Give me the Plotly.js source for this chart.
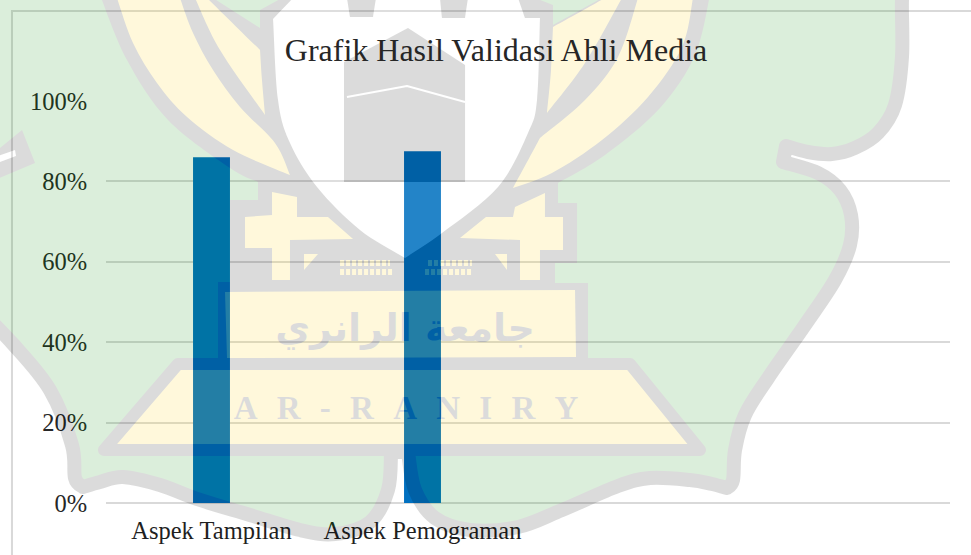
<!DOCTYPE html>
<html>
<head>
<meta charset="utf-8">
<script src="https://cdn.plot.ly/plotly-3.0.1.min.js"></script>
<style>
html,body{margin:0;padding:0;background:#fff}
.layer-above .shapelayer{opacity:.137}
.layer-above .shapelayer path{stroke-linejoin:round;stroke-linecap:butt}
</style>
</head>
<body>
<div id="chart" style="width:971px;height:555px"></div>
<script>
const categories = ['Aspek Tampilan', 'Aspek Pemograman', '', ''];
const values = [0.86, 0.875];
const tickValues = [0, 0.2, 0.4, 0.6, 0.8, 1];
const tickLabels = ['0%', '20%', '40%', '60%', '80%', '100%'];
const chartTitle = 'Grafik Hasil Validasi Ahli Media';

// Plot-area geometry, used to place the decorative watermark
const W = 971, H = 555, L = 106, R = 21, T = 101, B = 52;
const px = (x) => ((x - L) / (W - L - R)).toFixed(4);
const py = (y) => ((H - B - y) / (H - T - B)).toFixed(4);
const poly = (pts, close = true) => 'M' + pts.map(p => px(p[0]) + ',' + py(p[1])).join('L') + (close ? 'Z' : '');
// Each arc is smoothed on its own, so the joins between arcs stay sharp
function curve(arcs) {
  let d = 'M' + px(arcs[0][0][0]) + ',' + py(arcs[0][0][1]);
  arcs.forEach(pts => {
    for (let i = 0; i < pts.length - 1; i++) {
      const a = pts[Math.max(i - 1, 0)], b = pts[i], c = pts[i + 1], e = pts[Math.min(i + 2, pts.length - 1)];
      const c1 = [b[0] + (c[0] - a[0]) / 6, b[1] + (c[1] - a[1]) / 6];
      const c2 = [c[0] - (e[0] - b[0]) / 6, c[1] - (e[1] - b[1]) / 6];
      d += 'C' + px(c1[0]) + ',' + py(c1[1]) + ' ' + px(c2[0]) + ',' + py(c2[1]) + ' ' + px(c[0]) + ',' + py(c[1]);
    }
  });
  return d + 'Z';
}
const GREEN = 'rgb(0,138,0)', YELLOW = 'rgb(255,212,0)', BLACK = '#000', WHITE = '#fff';
const wm = (path, fill, stroke, width) => ({
  type: 'path', xref: 'paper', yref: 'paper', layer: 'above', path,
  fillcolor: fill || 'rgba(0,0,0,0)',
  line: { color: stroke || 'rgba(0,0,0,0)', width: stroke ? (width || 14) : 0 }
});
const wmText = (cx, cy, text, family, size) => ({
  type: 'rect', xref: 'paper', yref: 'paper', layer: 'above',
  x0: px(cx - 200), x1: px(cx + 200), y0: py(cy + 30), y1: py(cy - 30),
  fillcolor: 'rgba(0,0,0,0)', line: { width: 0 },
  label: { text, textposition: 'middle center', font: { family, size, color: BLACK, weight: 700 } }
});

const blobOutline = [
  [[-30,-30],[905,-30]],
  [[905,-30],[902,0],[902,57],[895,105],[878,133],[855,148],[832,154],[808,152],[786,146]],
  [[786,146],[783,162]],
  [[783,162],[818,173],[840,190],[851,215],[850,245],[835,280],[805,325],[768,378],[745,415],[735,450],[733,480],[727,488]],
  [[727,488],[712,484],[690,480],[650,478],[618,486],[562,510],[518,527],[470,530],[435,518],[415,490],[408,452]],
  [[408,452],[391,452]],
  [[391,452],[388,490],[370,522],[335,534],[300,530],[250,515],[200,500],[160,485],[123,477],[100,482],[83,487]],
  [[83,487],[75,478],[72,445],[50,390],[13,344],[-30,300]]
];
const greyBody = [
  [[100,-5],[127,60],[168,120],[230,168],[258,182]],
  [[258,182],[258,200]],[[258,200],[230,200]],[[230,200],[230,282]],[[230,282],[218,282]],[[218,282],[218,362]],
  [[218,362],[588,362]],[[588,362],[588,283]],[[588,283],[555,283]],[[555,283],[555,263]],[[555,263],[577,263]],
  [[577,263],[577,203]],[[577,203],[558,203]],[[558,203],[558,183]],
  [[558,183],[605,155],[660,108],[695,55],[710,-5]]
];
const leafLeftOuter = [
  [[117,-2],[133,43],[157,83],[187,117],[233,150],[290,175]],
  [[290,175],[275,143],[240,107],[213,70],[193,33],[180,-2]]
];
const leafLeftInner = [[[195,-2],[220,50],[265,115]],[[265,115],[262,80],[260,50]],[[260,50],[207,-2]]];
const leafRightOuter = [
  [[638,-2],[618,57],[585,100],[540,138]],
  [[540,138],[513,188]],
  [[513,188],[552,173],[602,140],[648,97],[682,47],[693,-2]]
];
const leafRightInner = [[[605,-2],[553,27]],[[553,27],[551,70],[547,113]],[[547,113],[585,63],[622,-2]]];
const greenLeft = [[213,-2],[282,-2],[260,10],[260,28]];
const greenRight = [[535,-2],[602,-2],[553,25],[553,5]];
const shield = [
  [[273,19],[293,-2]],[[293,-2],[347,-2]],[[347,-2],[350,17]],[[350,17],[373,17]],[[373,17],[376,-2]],[[376,-2],[440,-2]],
  [[440,-2],[442,18]],[[442,18],[465,18]],[[465,18],[468,-2]],[[468,-2],[518,-2]],[[518,-2],[525,18]],[[525,18],[540,18]],
  [[540,18],[537,100],[528,133],[498,187],[442,233],[405,258]],
  [[405,258],[360,230],[317,187],[290,143],[278,100],[273,19]]
];
const kaaba = [[344,62],[408,28],[465,65],[465,182],[344,182]];
const kaabaBand = [[347,97],[407,86],[465,102]];
const crossLeft = [[272,192],[297,197],[297,217],[328,217],[353,239],[290,240],[290,280],[272,280],[272,248],[245,248],[245,217],[272,215]];
const crossRight = [[545,193],[515,207],[513,217],[486,217],[460,238],[520,240],[520,280],[540,280],[540,250],[563,250],[563,217],[545,217]];
const baseBox = [[225,292],[575,290],[576,357],[227,358]];
const trapezoid = [[178,364],[104,450],[700,450],[630,364]];
const sideMark = [[-5,152],[22,130],[35,163],[-5,180]];
const sideSlit = [[-5,157],[15,150],[16,156],[-5,164]];
const winA = [[340,263],[390,263]], winB = [[340,272],[392,272]], winC = [[428,263],[472,263]], winD = [[425,272],[472,272]];
const smallTri = [[304,254],[318,254],[304,270]], smallTriR = [[495,254],[507,254],[507,270]];
const arabicText = 'جامعة الرانري';
const latinText = ['A','R','-','R','A','N','I','R','Y'].join('\u00a0\u00a0\u200a');

const shapes = [
  { type:'line', xref:'paper', yref:'paper', layer:'below', x0:px(12), x1:px(12), y0:py(11), y1:py(560), line:{color:'#d9d9d9',width:2} },
  { type:'line', xref:'paper', yref:'paper', layer:'below', x0:px(11), x1:px(975), y0:py(11), y1:py(11), line:{color:'#d9d9d9',width:2} },
  wm(curve(blobOutline), GREEN, BLACK, 14),
  wm(poly(sideMark), BLACK), wm(poly(sideSlit), WHITE),
  wm(curve(greyBody), BLACK),
  wm(poly(greenLeft), GREEN), wm(poly(greenRight), GREEN),
  wm(curve(leafLeftOuter), YELLOW), wm(curve(leafLeftInner), YELLOW),
  wm(curve(leafRightOuter), YELLOW), wm(curve(leafRightInner), YELLOW),
  wm(curve(shield), WHITE),
  wm(poly(kaaba), BLACK),
  wm(poly(kaabaBand, false), null, WHITE, 2),
  wm(poly(crossLeft), YELLOW), wm(poly(crossRight), YELLOW),
  wm(poly(smallTri), YELLOW), wm(poly(smallTriR), YELLOW),
  wm(poly(baseBox), YELLOW),
  wm(poly(trapezoid), YELLOW, BLACK, 12)
];
[winA, winB, winC, winD].forEach(w => {
  const s = wm(poly(w, false), null, YELLOW, 6);
  s.line.dash = '4px,2px';
  shapes.push(s);
});
shapes.push(wmText(405, 325, arabicText, '"DejaVu Sans", sans-serif', 38));
shapes.push(wmText(406, 404, latinText, '"Liberation Serif", serif', 33));

const data = [{
  type: 'bar',
  x: [0, 1],
  y: values,
  width: 0.175,
  marker: { color: '#0070C0', line: { width: 0 } },
  hoverinfo: 'skip'
}];

const layout = {
  width: W, height: H,
  margin: { l: L, r: R, t: T, b: B, pad: 0 },
  paper_bgcolor: '#fff', plot_bgcolor: 'rgba(0,0,0,0)',
  showlegend: false,
  title: {
    text: chartTitle, x: 496 / W, xanchor: 'center', y: 1 - 50 / H, yanchor: 'middle',
    font: { family: '"Liberation Serif", serif', size: 32, color: '#262626' }
  },
  font: { family: '"Liberation Serif", serif', color: '#262626', size: 24 },
  xaxis: {
    range: [-0.5, 3.5], tickmode: 'array', tickvals: categories.map((c, i) => i), ticktext: categories,
    showgrid: false, zeroline: false, showline: false,
    ticks: 'outside', ticklen: 6, tickcolor: 'rgba(0,0,0,0)', tickangle: 0,
    tickfont: { family: '"Liberation Serif", serif', size: 24.5, color: '#1f1f1f' }, fixedrange: true
  },
  yaxis: {
    range: [0, 1], tickmode: 'array', tickvals: tickValues, ticktext: tickLabels,
    showgrid: true, gridcolor: '#d9d9d9', gridwidth: 2, zeroline: true, zerolinecolor: '#d9d9d9', zerolinewidth: 2, showline: false,
    ticks: 'outside', ticklen: 13, tickcolor: 'rgba(0,0,0,0)',
    tickfont: { family: '"Liberation Serif", serif', size: 24.5, color: '#262626' }, fixedrange: true
  },
  shapes
};
Plotly.newPlot('chart', data, layout, { displayModeBar: false, staticPlot: true });
</script>
</body>
</html>
